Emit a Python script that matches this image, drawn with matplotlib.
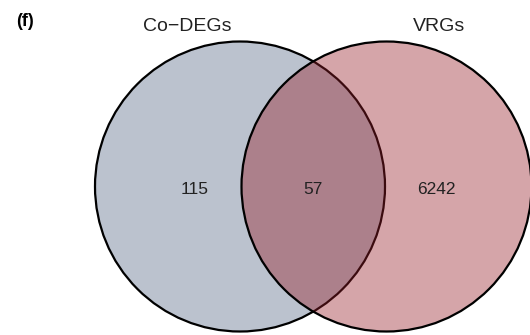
import matplotlib.pyplot as plt
from matplotlib.patches import Circle

# set names and region counts (only-left, shared, only-right)
set_names = ["Co\u2212DEGs", "VRGs"]
region_counts = [115, 57, 6242]

left_fill = "#bbc2ce"
right_fill = "#961e28"

plt.rcParams["font.family"] = ["Liberation Sans", "DejaVu Sans"]

fig = plt.figure(figsize=(5.3, 3.35), dpi=100)
ax = fig.add_axes([0, 0, 1, 1])
ax.set_xlim(0, 530)
ax.set_ylim(335, 0)
ax.set_aspect("equal")
ax.axis("off")

r = 145
cy = 186.5
cx_left, cx_right = 240, 386.5

# left set: opaque fill with outline
ax.add_patch(Circle((cx_left, cy), r, facecolor=left_fill, edgecolor="black", lw=1.6, zorder=1))
# right set: translucent fill drawn over, then its own outline
ax.add_patch(Circle((cx_right, cy), r, facecolor=right_fill, alpha=0.4, edgecolor="none", zorder=2))
ax.add_patch(Circle((cx_right, cy), r, facecolor="none", edgecolor="black", lw=1.6, zorder=3))

# region counts
count_x = [195, (cx_left + cx_right) / 2, 436]
for x, n in zip(count_x, region_counts):
    ax.text(x, cy + 3, str(n), ha="center", va="center", fontsize=12.5, color="#222222", zorder=4)

# set titles
ax.text(187, 31, set_names[0], ha="center", va="baseline", fontsize=14, color="#222222")
ax.text(439, 31, set_names[1], ha="center", va="baseline", fontsize=14, color="#222222")

# panel tag
ax.text(16, 21, "(f)", ha="left", va="center", fontsize=13, fontweight="bold")

fig.savefig("out.png", dpi=100)
